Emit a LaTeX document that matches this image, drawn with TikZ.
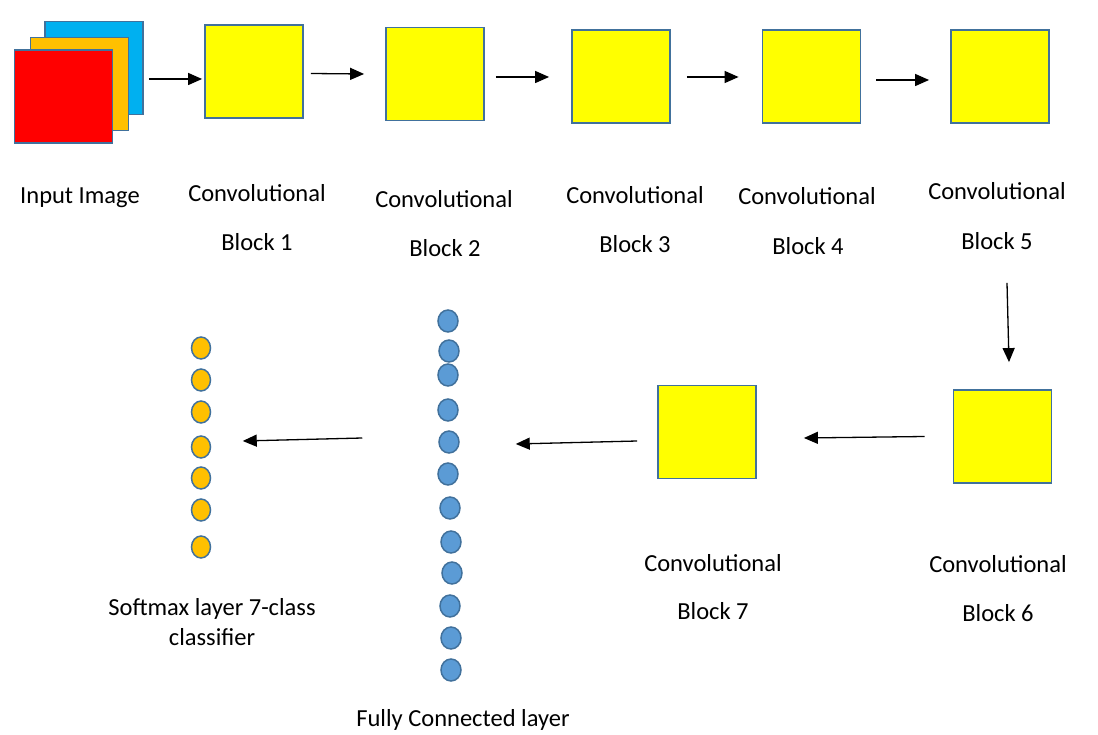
\documentclass[tikz,border=0pt]{standalone}
\usepackage{fontspec}
\setmainfont{Carlito}
\usetikzlibrary{shapes.geometric,arrows.meta}

\definecolor{edgeblue}{HTML}{41719C}
\definecolor{convyellow}{HTML}{FFFF00}
\definecolor{inred}{HTML}{FF0000}
\definecolor{inorange}{HTML}{FFC000}
\definecolor{inblue}{HTML}{00B0F0}
\definecolor{unitblue}{HTML}{5B9BD5}

\tikzset{
    square/.style={draw=edgeblue, line width=1.8pt, minimum width=98pt, minimum height=93pt, inner sep=0pt},
    block/.style={square, fill=convyellow},
    smunit/.style={ellipse, draw=edgeblue, line width=1.5pt, fill=inorange, minimum width=19pt, minimum height=22pt, inner sep=0pt},
    fcunit/.style={ellipse, draw=edgeblue, line width=1.5pt, fill=unitblue, minimum width=20pt, minimum height=22pt, inner sep=0pt},
    arr/.style={-{Triangle[length=14pt,width=12pt]}, line width=1.3pt},
    lbl/.style={anchor=base, font=\fontsize{24.5}{30}\selectfont}
}

\begin{document}
\begin{tikzpicture}[x=1pt, y=-1pt]
    \useasboundingbox (0,0) rectangle (1098,735);

    % Input image (three channels)
    \node[square, fill=inblue] (inB) at (94,68) {};
    \node[square, fill=inorange] (inO) at (79.5,84) {};
    \node[square, fill=inred] (inR) at (63.5,96.5) {};
    \node[lbl] (inLbl) at (80,204) {Input Image};

    % Convolutional blocks, top row
    \node[block] (b1) at (254,71.5) {};
    \node[block] (b2) at (435,74) {};
    \node[block] (b3) at (621,76.5) {};
    \node[block] (b4) at (811.5,76.5) {};
    \node[block] (b5) at (1000,76.5) {};

    % Convolutional blocks, bottom row
    \node[block] (b6) at (1002.5,436.5) {};
    \node[block] (b7) at (707,432) {};

    % Block labels
    \node[lbl] (c1) at (257,202) {Convolutional};
    \node[lbl] (n1) at (257,251) {Block 1};
    \node[lbl] (c2) at (444,208) {Convolutional};
    \node[lbl] (n2) at (445,257) {Block 2};
    \node[lbl] (c3) at (635,204) {Convolutional};
    \node[lbl] (n3) at (635,253) {Block 3};
    \node[lbl] (c4) at (807,205) {Convolutional};
    \node[lbl] (n4) at (808,255) {Block 4};
    \node[lbl] (c5) at (997,200) {Convolutional};
    \node[lbl] (n5) at (997,250) {Block 5};
    \node[lbl] (c6) at (998,572) {Convolutional};
    \node[lbl] (n6) at (998,621) {Block 6};
    \node[lbl] (c7) at (713,571) {Convolutional};
    \node[lbl] (n7) at (713,619) {Block 7};

    % Fully connected layer
    \foreach \x/\y [count=\i] in {448/321, 449/351, 448/375, 448/410, 449/442, 448/474,
                                  450/508, 451/542, 452/573, 450/606, 451/638, 451/670}
        \node[fcunit] (fc\i) at (\x,\y) {};
    \node[lbl] (fcLbl) at (463,726) {Fully Connected layer};

    % Softmax layer
    \foreach \y [count=\i] in {348, 380, 412, 447, 478, 510, 547}
        \node[smunit] (sm\i) at (201,\y) {};
    \node[lbl, align=center] (smLbl) at (212,645) {Softmax layer 7-class\\classifier};

    % Arrows
    \draw[arr] ([xshift=5pt,yshift=-11pt]inB.east) -- ([xshift=-2pt,yshift=-7.5pt]b1.west);
    \draw[arr] ([xshift=7pt,yshift=-2pt]b1.east) -- ([xshift=-21pt]b2.west);
    \draw[arr] ([xshift=11pt,yshift=-3pt]b2.east) -- ([xshift=-22pt,yshift=-0.5pt]b3.west);
    \draw[arr] ([xshift=16pt,yshift=-0.5pt]b3.east) -- ([xshift=-23pt,yshift=-0.5pt]b4.west);
    \draw[arr] ([xshift=15pt,yshift=-3.5pt]b4.east) -- ([xshift=-21pt,yshift=-3.5pt]b5.west);
    \draw[arr] ([xshift=7pt,yshift=-159pt]b5.south) -- ([xshift=6.5pt,yshift=27pt]b6.north);
    \draw[arr] ([xshift=-28pt]b6.west) -- ([xshift=47pt,yshift=-6pt]b7.east);
    \draw[arr] ([xshift=-20pt,yshift=-9pt]b7.west) -- ([xshift=56pt,yshift=-2pt]fc5.east);
    \draw[arr] ([xshift=-76pt,yshift=4pt]fc5.west) -- ([xshift=31.5pt,yshift=6pt]sm4.east);
\end{tikzpicture}
\end{document}
